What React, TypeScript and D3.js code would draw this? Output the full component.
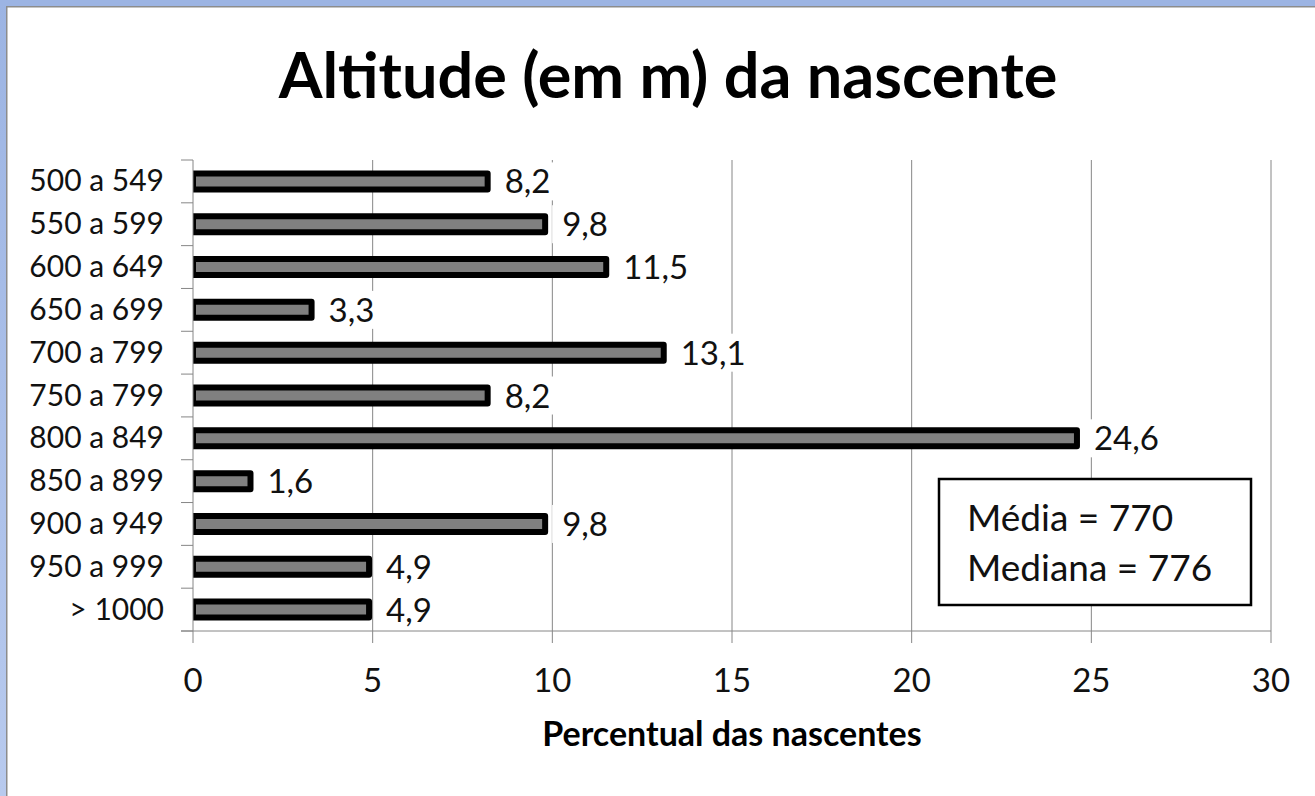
import * as d3 from 'd3';

const categories = [
  '500 a 549',
  '550 a 599',
  '600 a 649',
  '650 a 699',
  '700 a 799',
  '750 a 799',
  '800 a 849',
  '850 a 899',
  '900 a 949',
  '950 a 999',
  '> 1000',
];
const percentages = [8.2, 9.8, 11.5, 3.3, 13.1, 8.2, 24.6, 1.6, 9.8, 4.9, 4.9];
const xTickValues = [0, 5, 10, 15, 20, 25, 30];
const statLines = ['Média = 770', 'Mediana = 776'];

const W = 1315;
const H = 796;
const FONT = 'Lato, "Open Sans", sans-serif';
const GRID = '#868686';

export default function App() {
  const plot = { left: 193, right: 1271, top: 160, bottom: 631 };

  const x = d3.scaleLinear().domain([0, 30]).range([plot.left, plot.right]);
  const y = d3.scaleBand<string>().domain(categories).range([plot.top, plot.bottom]).padding(0);
  const step = y.step();
  const barH = 16;

  const fmt = (v: number) => v.toFixed(1).replace('.', ',');

  return (
    <div style={{ position: 'fixed', left: 0, top: 0 }}>
      <svg width={W} height={H} style={{ display: 'block', background: '#fff' }}>
        <defs>
          <linearGradient id="frame" x1="0" y1="0" x2="0" y2="1">
            <stop offset="0" stopColor="#9cb4e3" />
            <stop offset="1" stopColor="#b8caee" />
          </linearGradient>
          <clipPath id="plotClip">
            <rect x={plot.left} y={0} width={W - plot.left} height={H} />
          </clipPath>
        </defs>

        {/* window frame */}
        <rect x={0} y={0} width={6} height={H} fill="url(#frame)" />
        <rect x={0} y={0} width={W} height={6} fill="#9cb4e3" />
        <rect x={6} y={6} width={1.5} height={H - 6} fill="#8c8c8c" />
        <rect x={6} y={6} width={W - 6} height={1.5} fill="#8c8c8c" />

        {/* title */}
        <text
          x={668}
          y={98}
          textAnchor="middle"
          fontFamily={FONT}
          fontWeight={700}
          fontSize={63}
          fill="#000"
        >
          Altitude (em m) da nascente
        </text>

        {/* vertical gridlines */}
        {xTickValues.slice(1).map((t) => (
          <line key={t} x1={x(t)} x2={x(t)} y1={plot.top} y2={plot.bottom} stroke={GRID} strokeWidth={1} />
        ))}

        {/* bars */}
        <g clipPath="url(#plotClip)">
          {categories.map((c, i) => {
            const cy = (y(c) ?? 0) + step / 2;
            return (
              <rect
                key={c}
                x={x(0)}
                y={cy - barH / 2}
                width={x(percentages[i]) - x(0)}
                height={barH}
                fill="#808080"
                stroke="#000"
                strokeWidth={6}
                strokeLinejoin="round"
              />
            );
          })}
        </g>

        {/* value labels with white boxes */}
        {categories.map((c, i) => {
          const cy = (y(c) ?? 0) + step / 2;
          const label = fmt(percentages[i]);
          const lx = x(percentages[i]) + 17;
          return (
            <g key={`lab-${c}`}>
              <rect x={lx - 10} y={cy - 19} width={label.length * 18 + 16} height={38} fill="#fff" />
              <text x={lx} y={cy + 12} fontFamily={FONT} fontSize={33} fill="#111">
                {label}
              </text>
            </g>
          );
        })}

        {/* stats box */}
        <rect x={939} y={479} width={312} height={126} fill="#fff" stroke="#000" strokeWidth={2.5} />
        {statLines.map((s, i) => (
          <text key={s} x={967} y={531 + i * 50} fontFamily={FONT} fontSize={37} fill="#111">
            {s}
          </text>
        ))}

        {/* category axis */}
        <line x1={plot.left} x2={plot.left} y1={plot.top} y2={plot.bottom} stroke={GRID} />
        {d3.range(categories.length + 1).map((k) => (
          <line
            key={`yt-${k}`}
            x1={plot.left - 12}
            x2={plot.left}
            y1={plot.top + k * step}
            y2={plot.top + k * step}
            stroke={GRID}
          />
        ))}
        {categories.map((c) => (
          <text
            key={`cl-${c}`}
            x={164}
            y={(y(c) ?? 0) + step / 2 + 10}
            textAnchor="end"
            fontFamily={FONT}
            fontSize={30}
            fill="#111"
          >
            {c}
          </text>
        ))}

        {/* value axis */}
        <line x1={plot.left - 12} x2={plot.right} y1={plot.bottom} y2={plot.bottom} stroke={GRID} />
        {xTickValues.map((t) => (
          <g key={`xt-${t}`}>
            <line x1={x(t)} x2={x(t)} y1={plot.bottom} y2={plot.bottom + 12} stroke={GRID} />
            <text x={x(t)} y={692} textAnchor="middle" fontFamily={FONT} fontSize={33} fill="#111">
              {t}
            </text>
          </g>
        ))}
        <text
          x={732}
          y={746}
          textAnchor="middle"
          fontFamily={FONT}
          fontWeight={700}
          fontSize={34}
          fill="#000"
        >
          Percentual das nascentes
        </text>
      </svg>
    </div>
  );
}
